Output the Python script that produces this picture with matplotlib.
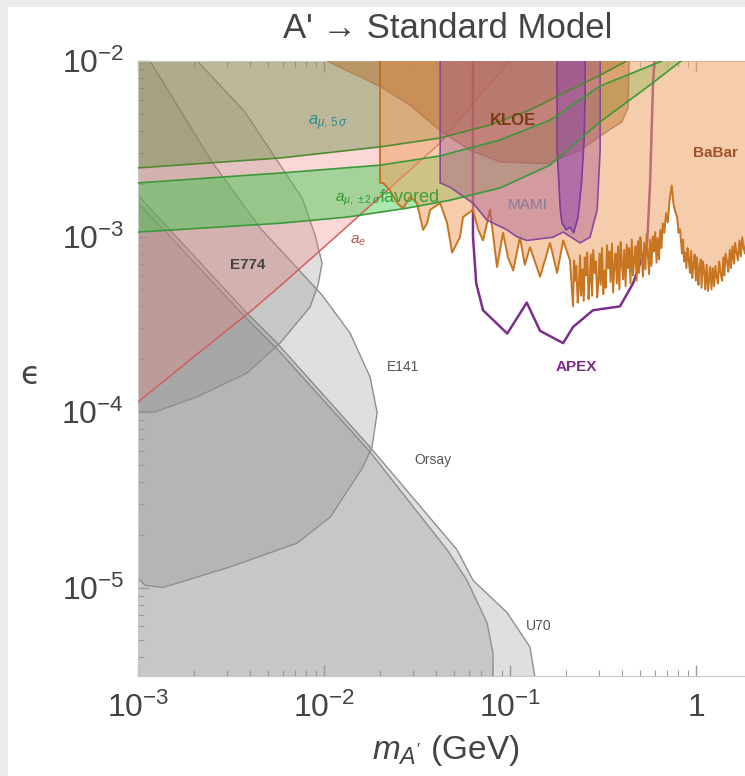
import numpy as np
import matplotlib
matplotlib.use("Agg")
import matplotlib.pyplot as plt
from matplotlib.patches import Polygon, Rectangle
from matplotlib.ticker import FixedLocator, FixedFormatter, LogLocator, NullFormatter

plt.rcParams['font.family'] = ['Liberation Sans', 'DejaVu Sans']
plt.rcParams['mathtext.fontset'] = 'custom'
plt.rcParams['mathtext.rm'] = 'Liberation Sans'
plt.rcParams['mathtext.it'] = 'Liberation Sans:italic'
plt.rcParams['mathtext.bf'] = 'Liberation Sans:bold'

# ---------------- data (mass in GeV, epsilon) ----------------
x_ticks = [1e-3, 1e-2, 1e-1, 1.0]
x_tick_labels = [r'$\mathregular{10^{-3}}$', r'$\mathregular{10^{-2}}$', r'$\mathregular{10^{-1}}$', '1']
y_ticks = [1e-5, 1e-4, 1e-3, 1e-2]
y_tick_labels = [r'$\mathregular{10^{-5}}$', r'$\mathregular{10^{-4}}$', r'$\mathregular{10^{-3}}$', r'$\mathregular{10^{-2}}$']

e774_m = [1.0e-3, 2.0e-3, 2.10e-3, 3.76e-3, 5.66e-3, 7.62e-3, 8.95e-3, 9.76e-3, 9.29e-3, 8.41e-3,
          5.80e-3, 3.86e-3, 2.08e-3, 1.23e-3, 1.0e-3]
e774_eps = [1.2e-2, 1.2e-2, 9.9e-3, 5.12e-3, 2.66e-3, 1.66e-3, 1.02e-3, 7.06e-4, 5.3e-4, 3.96e-4,
            2.47e-4, 1.67e-4, 1.22e-4, 1.0e-4, 1.0e-4]

e141_m = [1.0e-3, 1.16e-3, 2.50e-3, 4.53e-3, 9.76e-3, 1.38e-2, 1.77e-2, 1.93e-2, 1.81e-2, 1.62e-2,
          1.08e-2, 7.16e-3, 3.12e-3, 1.36e-3, 1.09e-3, 1.0e-3]
e141_eps = [1.2e-2, 1.0e-2, 2.66e-3, 1.12e-3, 4.64e-4, 2.82e-4, 1.58e-4, 9.9e-5, 6.3e-5, 4.86e-5,
            2.52e-5, 1.79e-5, 1.31e-5, 1.0e-5, 1.03e-5, 1.13e-5]

orsay_m = [1.0e-3, 1.45e-3, 3.76e-3, 5.59e-3, 1.77e-2, 4.59e-2, 5.87e-2, 7.52e-2, 8.1e-2, 8.1e-2, 1.0e-3]
orsay_eps = [1.55e-3, 1.03e-3, 3.48e-4, 2.29e-4, 5.92e-5, 1.64e-5, 1.1e-5, 6.3e-6, 4.24e-6, 2.0e-6, 2.0e-6]

u70_m = [1.0e-3, 1.45e-3, 3.76e-3, 5.59e-3, 1.77e-2, 5.19e-2, 6.32e-2, 9.64e-2, 0.128, 0.136, 0.137, 1.0e-3]
u70_eps = [1.72e-3, 1.12e-3, 3.76e-4, 2.47e-4, 6.3e-5, 1.64e-5, 1.1e-5, 7.2e-6, 4.58e-6, 3.1e-6, 2.0e-6, 2.0e-6]

ae_m = [1.0e-3, 2.15e-3, 4.0e-3, 6.32e-3, 1.22e-2, 2.26e-2, 4.21e-2, 6.90e-2, 0.1, 0.11]
ae_eps = [1.14e-4, 2.2e-4, 3.72e-4, 5.65e-4, 1.05e-3, 1.89e-3, 3.41e-3, 6.4e-3, 1.0e-2, 1.12e-2]

amu5_m = [1.0e-3, 5.8e-3, 0.02, 4.21e-2, 7.8e-2, 0.128, 0.210, 0.305, 0.415, 0.5]
amu5_eps = [2.46e-3, 2.8e-3, 3.24e-3, 3.64e-3, 4.32e-3, 5.26e-3, 6.84e-3, 8.3e-3, 9.9e-3, 1.15e-2]

band_hi_m = [1.0e-3, 5.8e-3, 0.02, 4.21e-2, 8.83e-2, 0.164, 0.305, 0.5, 0.64, 0.82]
band_hi_eps = [2.02e-3, 2.30e-3, 2.55e-3, 2.88e-3, 3.55e-3, 4.6e-3, 7.2e-3, 8.9e-3, 9.9e-3, 1.15e-2]
band_lo_m = [1.0e-3, 5.8e-3, 1.33e-2, 2.79e-2, 4.76e-2, 8.83e-2, 0.164, 0.305, 0.566, 0.82, 1.05]
band_lo_eps = [1.06e-3, 1.19e-3, 1.29e-3, 1.45e-3, 1.61e-3, 1.89e-3, 2.55e-3, 4.5e-3, 7.3e-3, 9.9e-3, 1.15e-2]

kloe_m = [0.0104, 0.0130, 0.0166, 0.0207, 0.0290, 0.0421, 0.0610, 0.0883, 0.158, 0.238, 0.324,
          0.399, 0.431, 0.437]
kloe_eps = [1.0e-2, 8.9e-3, 7.9e-3, 7.0e-3, 5.6e-3, 4.0e-3, 3.1e-3, 2.66e-3, 2.6e-3, 3.1e-3, 3.9e-3,
            4.5e-3, 5.4e-3, 1.0e-2]

babar_m = [0.0200, 0.0208, 0.0226, 0.0247, 0.0266, 0.0290, 0.0316, 0.0341, 0.0358, 0.0372, 0.0421,
           0.0459, 0.0488, 0.0538, 0.0559, 0.0632, 0.0673, 0.0716, 0.0780, 0.0851, 0.0917, 0.0975,
           0.104, 0.113, 0.120, 0.128, 0.145, 0.164, 0.179, 0.193, 0.210,
           0.218, 0.221, 0.224, 0.227, 0.231, 0.234, 0.238, 0.241, 0.245, 0.249, 0.252, 0.256,
           0.260, 0.264, 0.268, 0.272, 0.276, 0.280, 0.285, 0.289, 0.294, 0.298, 0.303, 0.307,
           0.312, 0.317, 0.322, 0.327, 0.332, 0.337, 0.342, 0.347, 0.353, 0.358, 0.364, 0.369,
           0.375, 0.381, 0.387, 0.393, 0.399, 0.405, 0.411, 0.418, 0.424, 0.431, 0.437, 0.444,
           0.451, 0.458, 0.465, 0.472, 0.479, 0.487, 0.494, 0.502, 0.510, 0.518, 0.526, 0.534,
           0.542, 0.550, 0.559, 0.567, 0.576, 0.585, 0.594, 0.603, 0.613, 0.622, 0.632, 0.642,
           0.652, 0.662,
           0.675, 0.690, 0.705, 0.720, 0.740, 0.755, 0.770, 0.791, 0.805, 0.820, 0.840,
           0.851, 0.862, 0.875, 0.887, 0.900, 0.913, 0.927, 0.940, 0.954, 0.968, 0.982, 0.997,
           1.01, 1.03, 1.04, 1.06, 1.07, 1.09, 1.11, 1.12, 1.14, 1.16, 1.18, 1.19, 1.21, 1.23,
           1.25, 1.27, 1.29, 1.31, 1.33, 1.35, 1.38, 1.40, 1.42, 1.44, 1.47, 1.49, 1.52, 1.54,
           1.57, 1.60, 1.62, 1.65, 1.68, 1.71, 1.74, 1.77, 1.80, 1.83, 1.87, 1.90]
babar_eps_1e4 = [20.2, 20.2, 18.4, 15.5, 14.5, 16.8, 15.5, 10.9, 11.9, 14.2, 15.5,
                 11.9, 8.1, 9.9, 12.9, 14.2, 11.0, 9.5, 14.2, 6.7, 10.5, 7.6,
                 6.4, 9.9, 6.9, 8.7, 5.9, 9.2, 6.2, 9.5, 7.3,
                 4.0, 7.3, 5.6, 6.8, 4.2, 5.0, 7.8, 4.6, 6.5, 4.3, 7.6, 6.0,
                 8.1, 4.4, 5.5, 7.9, 4.6, 8.4, 6.2, 7.2, 4.5, 5.4, 8.0, 5.3,
                 8.6, 4.7, 6.4, 5.1, 8.9, 6.6, 8.2, 5.5, 9.1, 4.8, 6.9, 8.0,
                 5.4, 8.8, 5.0, 9.3, 7.0, 5.7, 8.4, 5.2, 9.0, 6.6, 8.6, 5.4,
                 9.6, 6.0, 7.4, 8.8, 5.6, 9.4, 6.2, 9.9, 7.8, 5.9, 9.2, 6.5,
                 10.3, 8.0, 6.1, 9.6, 6.8, 10.0, 8.2, 10.6, 7.1, 9.8, 7.4, 10.9,
                 8.6, 11.9,
                 10.5, 13.6, 12.0, 16.0, 19.5, 15.5, 14.0, 12.9, 10.5, 11.0, 8.0,
                 9.6, 7.2, 8.1, 6.6, 8.6, 7.4, 6.2, 8.3, 5.8, 6.9, 7.9, 5.6,
                 7.6, 5.3, 6.5, 7.4, 5.1, 7.2, 6.0, 5.0, 6.9, 4.9, 6.1, 6.7, 5.0, 6.6,
                 5.2, 6.8, 5.9, 5.4, 7.2, 6.3, 5.6, 7.6, 6.0, 8.0, 7.1, 6.3, 8.4, 6.6,
                 8.8, 7.0, 9.2, 8.1, 7.3, 9.5, 7.7, 9.9, 8.6, 8.0, 10.3, 9.6]

mami_m = [0.0421, 0.0421, 0.0476, 0.0632, 0.0751, 0.0966, 0.108, 0.123, 0.170, 0.193, 0.238,
          0.269, 0.294, 0.305, 0.305]
mami_eps = [1.2e-2, 2.02e-3, 1.91e-3, 1.55e-3, 1.24e-3, 1.09e-3, 1.0e-3, 9.5e-4, 9.9e-4, 1.06e-3,
            9.2e-4, 9.9e-4, 1.42e-3, 3.1e-3, 1.2e-2]

a1_m = [0.179, 0.179, 0.183, 0.186, 0.190, 0.200, 0.210, 0.220, 0.232, 0.242, 0.250, 0.253, 0.253]
a1_eps = [1.2e-2, 3.1e-3, 2.02e-3, 1.45e-3, 1.2e-3, 1.09e-3, 1.13e-3, 1.05e-3, 1.29e-3, 2.0e-3,
          3.5e-3, 6.0e-3, 1.2e-2]

apex_m = [0.0632, 0.0632, 0.0658, 0.0716, 0.0966, 0.123, 0.145, 0.193, 0.218, 0.279, 0.390, 0.458,
          0.546, 0.566, 0.587, 0.603]
apex_eps = [1.2e-2, 1.0e-3, 5.4e-4, 3.8e-4, 2.8e-4, 4.2e-4, 2.9e-4, 2.47e-4, 3.05e-4, 3.8e-4,
            4.0e-4, 5.4e-4, 9.2e-4, 2.02e-3, 7.5e-3, 1.2e-2]

# label positions (mass, eps)
labels = {
    'KLOE': (0.104, 4.6e-3), 'BaBar': (1.27, 3.0e-3), 'MAMI': (0.125, 1.51e-3),
    'APEX': (0.226, 1.8e-4), 'E774': (3.9e-3, 6.9e-4), 'E141': (0.0266, 1.8e-4),
    'Orsay': (0.0386, 5.3e-5), 'U70': (0.142, 6.0e-6),
}

# ---------------- figure ----------------
W, H = 745, 776
fig = plt.figure(figsize=(W / 100, H / 100), dpi=100)
fig.patch.set_facecolor('#ececec')
fig.add_artist(Rectangle((8 / W, 0), 1 - 8 / W, 1 - 7 / H, transform=fig.transFigure,
                         facecolor='white', edgecolor='none', zorder=-10))

ax = fig.add_axes([138 / W, 1 - 676 / H, (W - 138) / W, (676 - 61) / H])
ax.set_xscale('log')
ax.set_yscale('log')
ax.set_xlim(1e-3, 10 ** 0.263)
ax.set_ylim(10 ** -5.504, 1e-2)
ax.set_facecolor('none')


def poly(mx, ey, fc, alpha, ec, lw=1.0, z=1):
    pts = np.column_stack([mx, ey])
    ax.add_patch(Polygon(pts, closed=True, facecolor=fc, alpha=alpha, edgecolor='none', zorder=z))
    ax.add_patch(Polygon(pts, closed=True, facecolor='none', edgecolor=ec, lw=lw, zorder=z + 0.1))


gray = '#808080'
gedge = '#8f8f8f'
poly(u70_m, u70_eps, gray, 0.25, gedge, 1.0, 1)
poly(orsay_m, orsay_eps, gray, 0.25, gedge, 1.0, 1.2)
poly(e141_m, e141_eps, gray, 0.25, gedge, 1.0, 1.4)
poly(e774_m, e774_eps, gray, 0.25, gedge, 1.0, 1.6)

# a_e (pink, above red line)
ax.fill(list(ae_m) + [1.0e-3], list(ae_eps) + [1.2e-2], color='#f08080', alpha=0.3, lw=0, zorder=2)
ax.plot(ae_m, ae_eps, color='#d06060', lw=1.1, zorder=2.9)

# a_mu 5 sigma
ax.fill(list(amu5_m) + [1.0e-3], list(amu5_eps) + [1.2e-2], color='#6f904a', alpha=0.45, lw=0, zorder=2.2)
ax.plot(amu5_m, amu5_eps, color='#4f8a30', lw=1.2, zorder=6)

# a_mu +-2 sigma band
band_m = list(band_hi_m) + list(band_lo_m)[::-1]
band_e = list(band_hi_eps) + list(band_lo_eps)[::-1]
ax.fill(band_m, band_e, color='#2ecc40', alpha=0.42, lw=0, zorder=2.4)
ax.plot(band_hi_m, band_hi_eps, color='#3a9a3a', lw=1.2, zorder=6)
ax.plot(band_lo_m, band_lo_eps, color='#3a9a3a', lw=1.2, zorder=6)

# APEX outline (below the BaBar fill)
ax.plot(apex_m, apex_eps, color='#7d2e8c', lw=1.8, zorder=2.95)

# BaBar
babar_eps = np.array(babar_eps_1e4) * 1e-4
bb_m = [babar_m[0]] + list(babar_m) + [babar_m[-1]]
bb_e = [1.2e-2] + list(babar_eps) + [1.2e-2]
ax.fill(bb_m, bb_e, color='#f0a468', alpha=0.55, lw=0, zorder=3)
ax.plot(bb_m[:-1], bb_e[:-1], color='#c87522', lw=1.4, zorder=3.1)

# KLOE
ax.fill(list(kloe_m) + [kloe_m[0]], list(kloe_eps) + [1.2e-2], color='#b5651d', alpha=0.4, lw=0, zorder=3.2)
ax.plot(kloe_m, kloe_eps, color='#b87a50', lw=1.0, alpha=0.8, zorder=3.3)

# MAMI
ax.fill(mami_m, mami_eps, color='#a0528c', alpha=0.4, lw=0, zorder=3.4)
ax.plot(mami_m, mami_eps, color='#8b4a9c', lw=1.2, zorder=3.5)

# narrow purple region
ax.fill(a1_m, a1_eps, color='#8e44ad', alpha=0.5, lw=0, zorder=3.6)
ax.plot(a1_m, a1_eps, color='#7d3c98', lw=1.2, zorder=3.7)

# ---------------- labels ----------------
lab_style = {
    'KLOE': dict(color='#7a3b10', fontsize=12, fontweight='bold'),
    'BaBar': dict(color='#a0522d', fontsize=11, fontweight='bold'),
    'MAMI': dict(color='#8a7a9a', fontsize=11),
    'APEX': dict(color='#7b2a8a', fontsize=11, fontweight='bold'),
    'E774': dict(color='#444444', fontsize=11, fontweight='bold'),
    'E141': dict(color='#555555', fontsize=10),
    'Orsay': dict(color='#555555', fontsize=10),
    'U70': dict(color='#555555', fontsize=10),
}
for name, (mx, ey) in labels.items():
    ax.text(mx, ey, name, ha='center', va='center', zorder=10, **lab_style[name])

ax.text(0.0105, 4.4e-3, r'$a_{\mu,\,5\,\sigma}$', color='#2b8c8c', fontsize=12, ha='center',
        va='center', zorder=10)
ax.text(0.0152, 1.62e-3, r'$a_{\mu,\,\pm 2\,\sigma}$', color='#2a9a2a', fontsize=11, ha='center',
        va='center', zorder=10)
ax.text(0.029, 1.66e-3, 'favored', color='#3aa03a', fontsize=13, ha='center', va='center', zorder=10)
ax.text(0.0152, 9.4e-4, r'$a_e$', color='#c0504d', fontsize=11, ha='center', va='center', zorder=10)

# ---------------- axes styling ----------------
ax.xaxis.set_major_locator(FixedLocator(x_ticks))
ax.xaxis.set_major_formatter(FixedFormatter(x_tick_labels))
ax.yaxis.set_major_locator(FixedLocator(y_ticks))
ax.yaxis.set_major_formatter(FixedFormatter(y_tick_labels))
ax.xaxis.set_minor_locator(LogLocator(base=10, subs=np.arange(2, 10)))
ax.yaxis.set_minor_locator(LogLocator(base=10, subs=np.arange(2, 10)))
ax.xaxis.set_minor_formatter(NullFormatter())
ax.yaxis.set_minor_formatter(NullFormatter())
ax.tick_params(which='both', direction='in', top=True, right=False, colors='#999999',
               labelcolor='#444444', labelsize=23)
ax.tick_params(which='major', length=8, width=1)
ax.tick_params(which='minor', length=4, width=0.8)
ax.tick_params(axis='x', pad=12)
ax.tick_params(axis='y', pad=10)
for s in ['left', 'bottom', 'top']:
    ax.spines[s].set_color('#c8c8c8')
ax.spines['right'].set_visible(False)

fig.text(448 / W, 1 - 29 / H, "A' \u2192 Standard Model", ha='center', va='center', fontsize=25,
         color='#444444')
fig.text(446 / W, 1 - 750 / H, r"$m_{A'}$ (GeV)", ha='center', va='center', fontsize=24,
         color='#444444')
fig.text(30 / W, 1 - 375 / H, '\u03f5', ha='center', va='center', fontsize=23, color='#444444',
         family=['DejaVu Sans'])

fig.savefig('out.png', dpi=100, facecolor=fig.get_facecolor())
